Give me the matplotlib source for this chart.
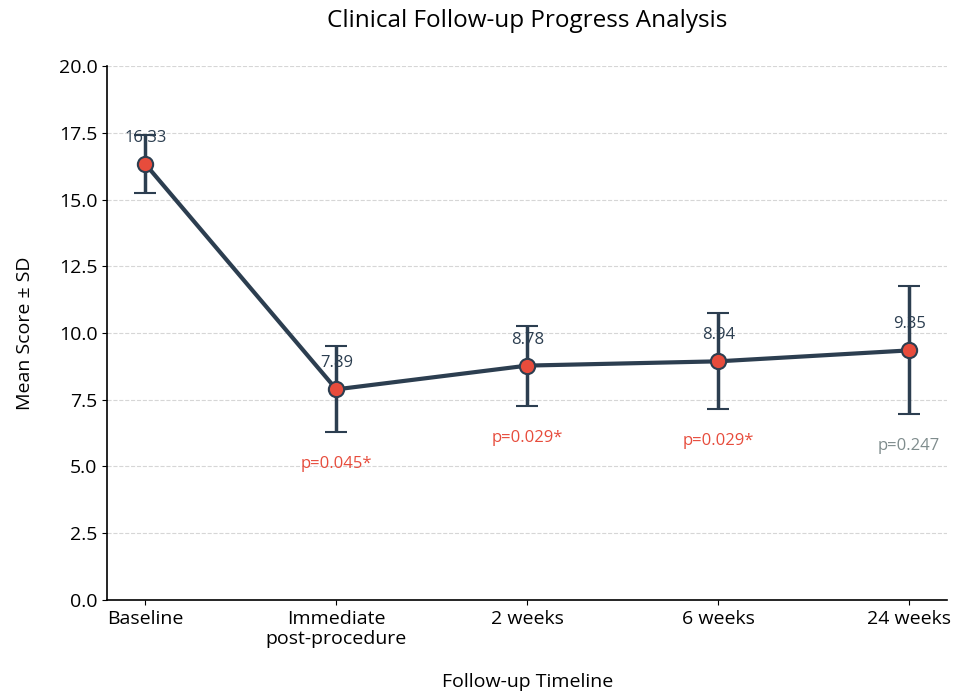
import numpy as np
import matplotlib
matplotlib.use("Agg")
import matplotlib.pyplot as plt

plt.rcParams['font.family'] = ['Open Sans', 'DejaVu Sans']

timepoints = ["Baseline", "Immediate\npost-procedure", "2 weeks", "6 weeks", "24 weeks"]
means = [16.33, 7.89, 8.78, 8.94, 9.35]
sds = [1.08, 1.61, 1.50, 1.80, 2.40]
p_values = [None, 0.045, 0.029, 0.029, 0.247]

navy = "#2c3e50"
red = "#e74c3c"
gray = "#7f8c8d"

fig = plt.figure(figsize=(9.57, 6.96), dpi=100)
ax = fig.add_axes([0.112, 0.138, 0.878, 0.767])

x = np.arange(len(timepoints))
ax.errorbar(x, means, yerr=sds, color=navy, linewidth=3, elinewidth=2.5,
            capsize=8, capthick=2.5, marker='o', markersize=11,
            markerfacecolor=red, markeredgecolor=navy, markeredgewidth=1.5, zorder=3)

for xi, m in zip(x, means):
    ax.annotate(f"{m:.2f}", (xi, m), xytext=(0, 13), textcoords='offset points',
                ha='center', va='bottom', fontsize=12, color=navy)

for xi, m, s, p in zip(x, means, sds, p_values):
    if p is None:
        continue
    c = red if p < 0.05 else gray
    txt = f"p={p:.3f}" + ("*" if p < 0.05 else "")
    ax.text(xi, m - s - 1.2, txt, ha='center', va='center', fontsize=12, color=c)

ax.set_xlim(-0.2, 4.2)
ax.set_ylim(0, 20)
ax.set_yticks(np.arange(0, 20.1, 2.5))
ax.set_xticks(x)
ax.set_xticklabels(timepoints)
ax.tick_params(labelsize=14)
ax.yaxis.grid(True, linestyle='--', color='#cccccc', alpha=0.8)
ax.set_axisbelow(True)
for sp in ['top', 'right']:
    ax.spines[sp].set_visible(False)
ax.spines['left'].set_linewidth(1.2)
ax.spines['bottom'].set_linewidth(1.2)

ax.set_xlabel("Follow-up Timeline", fontsize=14, labelpad=18)
ax.set_ylabel("Mean Score ± SD", fontsize=14, labelpad=18)
ax.set_title("Clinical Follow-up Progress Analysis", fontsize=17.5, pad=28)

fig.savefig("out.png", dpi=100)
